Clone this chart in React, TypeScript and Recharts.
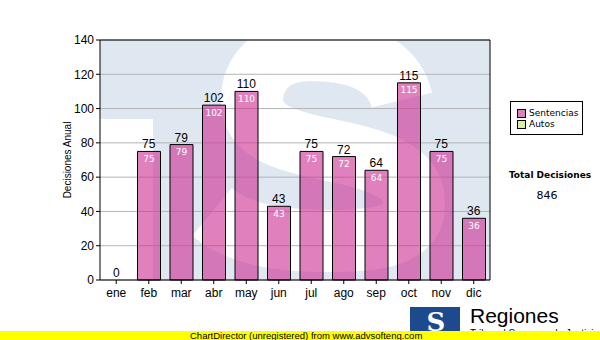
import { ComposedChart, Bar, Line, XAxis, YAxis, CartesianGrid, LabelList } from 'recharts'

const months = ['ene', 'feb', 'mar', 'abr', 'may', 'jun', 'jul', 'ago', 'sep', 'oct', 'nov', 'dic']
const sentencias = [0, 75, 79, 102, 110, 43, 75, 72, 64, 115, 75, 36]
const yTicks = [0, 20, 40, 60, 80, 100, 120, 140]
const legendItems = [
  { name: 'Sentencias', color: '#dc80bd' },
  { name: 'Autos', color: '#d9f0a3' },
]

const data = months.map((m, i) => ({ month: m, sentencias: sentencias[i] }))
const total = sentencias.reduce((a, b) => a + b, 0)

// plot box (matches chart margins below)
const PLOT = { x: 100, y: 40, w: 390, h: 240 }

const sans = 'Arial, "Liberation Sans", sans-serif'
const verdana = '"DejaVu Sans", Verdana, sans-serif'

// rough TSJ watermark "S" centre line
const sPath =
  'M 402 100 C 392 60 350 50 310 50 C 270 50 252 75 252 100 ' +
  'C 252 130 280 140 330 150 C 390 162 414 175 414 205 ' +
  'C 414 235 380 241 330 241 C 280 241 240 235 212 212'

export default function App() {
  return (
    <div style={{ position: 'absolute', left: 0, top: 0, width: 600, height: 340, background: '#fff', overflow: 'hidden' }}>
      {/* watermark behind plot */}
      <svg width={600} height={340} style={{ position: 'absolute', left: 0, top: 0 }}>
        <defs>
          <clipPath id="plotClip">
            <rect x={PLOT.x} y={PLOT.y} width={PLOT.w} height={PLOT.h} />
          </clipPath>
        </defs>
        <rect x={PLOT.x} y={PLOT.y} width={PLOT.w} height={PLOT.h} fill="#dfe8f1" />
        <g clipPath="url(#plotClip)">
          <rect x={PLOT.x} y={119} width={53} height={170} fill="#fff" />
          <path d={sPath} fill="none" stroke="#fff" strokeWidth={62} />
        </g>
      </svg>

      <div style={{ position: 'absolute', left: 0, top: 0 }}>
        <ComposedChart width={600} height={340} data={data} margin={{ top: 40, right: 110, bottom: 0, left: 0 }}>
          <CartesianGrid vertical={false} stroke="#b4b4b4" />
          <XAxis
            dataKey="month"
            height={60}
            tickSize={4}
            stroke="#000"
            tick={{ fill: '#000', fontSize: 12, fontFamily: sans }}
            tickMargin={4}
          />
          <YAxis
            width={100}
            domain={[0, 140]}
            ticks={yTicks}
            tickSize={4}
            stroke="#000"
            tick={{ fill: '#000', fontSize: 12, fontFamily: sans }}
            tickMargin={2}
            label={{
              value: 'Decisiones Anual',
              angle: -90,
              position: 'insideLeft',
              dx: 62,
              dy: 0,
              style: { textAnchor: 'middle', fontSize: 10, fontFamily: sans, fill: '#000' },
            }}
          />
          <Bar
            dataKey="sentencias"
            barSize={23}
            fill="rgb(205,52,149)"
            fillOpacity={0.625}
            stroke="#000"
            strokeWidth={1}
            isAnimationActive={false}
          >
            <LabelList
              dataKey="sentencias"
              position="insideTop"
              offset={4}
              formatter={(v: number) => (v === 0 ? '' : v)}
              style={{ fill: '#fff', fontSize: 9, fontFamily: verdana }}
            />
          </Bar>
          {/* invisible line only to carry the value labels (incl. the 0) */}
          <Line
            dataKey="sentencias"
            stroke="none"
            dot={false}
            activeDot={false}
            legendType="none"
            isAnimationActive={false}
          >
            <LabelList
              dataKey="sentencias"
              position="top"
              offset={3}
              style={{ fill: '#000', fontSize: 12, fontFamily: sans }}
            />
          </Line>
        </ComposedChart>
      </div>

      {/* top & right border of plot */}
      <svg width={600} height={340} style={{ position: 'absolute', left: 0, top: 0, pointerEvents: 'none' }}>
        <polyline
          points={`${PLOT.x},${PLOT.y} ${PLOT.x + PLOT.w},${PLOT.y} ${PLOT.x + PLOT.w},${PLOT.y + PLOT.h}`}
          fill="none"
          stroke="#000"
        />
      </svg>

      {/* legend */}
      <div
        style={{
          position: 'absolute',
          left: 510,
          top: 101,
          width: 73,
          height: 34,
          border: '1px solid #000',
          fontFamily: verdana,
          fontSize: 9,
          lineHeight: '11px',
          paddingTop: 6,
          boxSizing: 'border-box',
        }}
      >
        {legendItems.map((it) => (
          <div key={it.name} style={{ display: 'flex', alignItems: 'center', paddingLeft: 6 }}>
            <span
              style={{
                display: 'inline-block',
                width: 7,
                height: 7,
                background: it.color,
                border: '1px solid #000',
                marginRight: 3,
              }}
            />
            {it.name}
          </div>
        ))}
      </div>

      <div
        style={{
          position: 'absolute',
          left: 500,
          top: 170,
          width: 100,
          textAlign: 'center',
          fontFamily: verdana,
          fontSize: 9,
          fontWeight: 'bold',
        }}
      >
        Total Decisiones
      </div>
      <div
        style={{
          position: 'absolute',
          left: 500,
          top: 189,
          width: 94,
          textAlign: 'center',
          fontFamily: verdana,
          fontSize: 11,
        }}
      >
        {total}
      </div>

      {/* logo */}
      <svg width={600} height={340} style={{ position: 'absolute', left: 0, top: 0 }}>
        <rect x={410} y={307} width={50} height={33} fill="#1c4a8c" />
        <text x={436} y={331} textAnchor="middle" fontFamily='"DejaVu Serif", serif' fontWeight="bold" fontSize={26} fill="#fff">
          S
        </text>
        <text x={470} y={323} fontFamily={sans} fontSize={21} fill="#000">
          Regiones
        </text>
        <text x={470} y={337} fontFamily={sans} fontSize={10} fill="#000">
          Tribunal Supremo de Justicia
        </text>
        <rect x={0} y={331} width={600} height={9} fill="#ffff00" />
        <text x={190} y={339} fontFamily={sans} fontSize={9.5} fill="#000">
          ChartDirector (unregistered) from www.advsofteng.com
        </text>
      </svg>
    </div>
  )
}
